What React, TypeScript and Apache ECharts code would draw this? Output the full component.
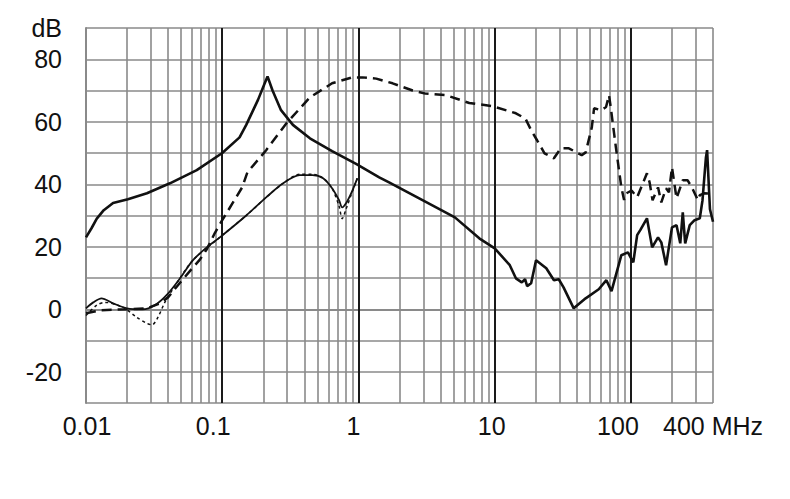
import React, { useEffect, useRef } from "react";
import * as echarts from "echarts";

// Thick solid trace
const solidFreq = [0.01, 0.011, 0.012, 0.0135, 0.0158, 0.0203, 0.028, 0.0413, 0.065, 0.1, 0.134, 0.15, 0.183, 0.205, 0.215, 0.234, 0.27, 0.33, 0.44, 0.64, 0.96, 1.42, 1.69, 2.95, 5.1, 7.7, 10, 12.9, 14.3, 15.8, 16.7, 17.3, 18.5, 20.1, 23.9, 27.2, 29.5, 32, 38, 46.5, 58, 66, 72, 85, 95, 104, 111, 117, 131, 143, 158, 167, 181, 200, 216, 230, 240, 250, 270, 293, 320, 335, 355, 362, 380, 400];
const solidDb = [23, 26, 29, 31.7, 34, 35.2, 37.1, 40.3, 44.5, 50, 55, 59, 67, 72.3, 74.5, 70, 63.7, 59, 54.7, 50.6, 46.5, 42.2, 40.5, 34.9, 29.4, 22.7, 19.5, 14.1, 9.9, 8.6, 9.6, 7.4, 8.3, 15.7, 13.1, 9.3, 9.6, 7, 0.3, 3.5, 6.4, 9.3, 5.8, 17.3, 18.2, 15, 23.7, 25.3, 29.1, 19.8, 23, 21.4, 14.1, 26.2, 26.9, 21.1, 31, 21.1, 26.9, 28.5, 29.1, 34.9, 48.6, 50.9, 32, 28];

// Long-dashed trace
const dashFreq = [0.01, 0.0127, 0.02, 0.028, 0.0349, 0.04, 0.049, 0.06, 0.068, 0.077, 0.088, 0.1, 0.14, 0.153, 0.21, 0.296, 0.44, 0.64, 0.9, 1.07, 1.35, 1.78, 2.5, 3.1, 4.4, 6.5, 9.6, 14.3, 16.8, 18.5, 20.5, 23.2, 27.2, 30.5, 35, 43.5, 46.5, 51.6, 53.6, 60.4, 65.6, 69, 71, 77.5, 85, 89, 92.5, 101, 111, 131, 137, 144, 158, 167, 181, 190, 200, 216, 240, 260, 280, 310, 320, 345, 400];
const dashDb = [-1.3, -0.3, 0, 0.3, 1.9, 3.8, 8.5, 13, 15.7, 19.2, 24.3, 28.5, 39, 43.8, 50.9, 59.5, 67.8, 72.3, 74.2, 74.2, 73.8, 72.3, 70, 69, 68.5, 66, 65, 62.7, 61, 57.3, 54, 49.9, 48.3, 51.5, 51.5, 49.3, 50.2, 58.2, 64.3, 63.7, 64.7, 68.5, 64.7, 51.8, 39, 35, 37.1, 38, 35.8, 43.5, 40.6, 34.9, 39, 34.2, 38.7, 37.4, 45.4, 35.5, 41.3, 41.3, 39, 34.9, 36.5, 37.1, 37];

// Thin solid trace
const thinFreq = [0.01, 0.0113, 0.013, 0.0158, 0.02, 0.026, 0.032, 0.039, 0.049, 0.061, 0.077, 0.096, 0.15, 0.21, 0.28, 0.37, 0.46, 0.55, 0.64, 0.72, 0.76, 0.81, 0.89, 0.98];
const thinDb = [0.3, 2.2, 3.5, 1.9, 0.3, 0, 1.3, 4.5, 9.9, 15.7, 19.8, 23, 30, 35.8, 40.3, 42.9, 42.9, 41.9, 38.7, 34.9, 32.6, 33.9, 37.4, 41.9];

// Short-dashed trace
const dotFreq = [0.01, 0.012, 0.0138, 0.0187, 0.0236, 0.028, 0.0305, 0.0337, 0.0379, 0.045, 0.061, 0.096, 0.15, 0.21, 0.28, 0.37, 0.46, 0.55, 0.64, 0.72, 0.76, 0.81, 0.89, 0.98];
const dotDb = [-2, 1.3, 2.2, 0.6, -2.6, -4.5, -5, -2.6, 2.2, 7.5, 15.7, 23, 30, 35.8, 40.3, 43.2, 43.2, 42, 38.7, 33, 29, 32, 37, 41.9];

// Grid lines (frequency values)
const majorGrid = [0.1, 1, 10, 100];
const minorGrid = [0.02, 0.03, 0.04, 0.05, 0.06, 0.07, 0.08, 0.09, 0.2, 0.3, 0.4, 0.5, 0.6, 0.7, 0.8, 0.9, 2, 3, 4, 5, 6, 7, 8, 9, 20, 30, 40, 50, 60, 70, 80, 90, 200, 300, 400];

// Tick labels
const xTickValues = [0.01, 0.1, 1, 10, 100, 400];
const xTickLabels = ["0.01", "0.1", "1", "10", "100", "400 MHz"];
const yTickValues = [90, 80, 60, 40, 20, 0, -20];
const yTickLabels = ["dB", "80", "60", "40", "20", "0", "-20"];

const zip = (f: number[], d: number[]) => f.map((v, i) => [v, d[i]]);

const FONT = "Liberation Sans, Arial, sans-serif";
const gridGray = "#8a8a8a";

export default function App() {
  const ref = useRef<HTMLDivElement>(null);
  useEffect(() => {
    if (!ref.current) return;
    const chart = echarts.init(ref.current, null, { renderer: "svg" });
    const lbl = (pad: number[]) => ({ fontSize: 25, fontFamily: FONT, color: "#111", padding: pad });
    chart.setOption({
      animation: false,
      backgroundColor: "#fff",
      grid: { left: 86, right: 77, top: 28, bottom: 96, containLabel: false },
      xAxis: {
        type: "log",
        logBase: 10,
        min: 0.01,
        max: 400,
        axisLine: { show: true, lineStyle: { color: gridGray, width: 2 } },
        axisTick: { show: false },
        splitLine: { show: false },
        axisLabel: {
          show: true,
          showMinLabel: true,
          showMaxLabel: true,
          margin: 10,
          fontSize: 25,
          fontFamily: FONT,
          color: "#111",
          formatter: (value: number) => {
            const i = xTickValues.findIndex((t) => Math.abs(Math.log10(t) - Math.log10(value)) < 0.01);
            if (i < 0) return "";
            return `{r${i}|${xTickLabels[i]}}`;
          },
          rich: {
            r0: lbl([0, 0, 0, 2]),
            r1: lbl([0, 18, 0, 0]),
            r2: lbl([0, 10, 0, 0]),
            r3: lbl([0, 6, 0, 0]),
            r4: lbl([0, 26, 0, 0]),
            r5: lbl([0, 0, 0, 0]),
          },
        },
      },
      yAxis: {
        type: "value",
        min: -30,
        max: 90,
        interval: 10,
        axisLine: { show: true, lineStyle: { color: gridGray, width: 2 } },
        axisTick: { show: false },
        splitLine: { show: true, lineStyle: { color: gridGray, width: 1.6 } },
        axisLabel: {
          show: true,
          showMinLabel: true,
          showMaxLabel: true,
          margin: 24,
          fontSize: 25,
          fontFamily: FONT,
          color: "#111",
          padding: [8, 0, 0, 0],
          formatter: (value: number) => {
            const i = yTickValues.indexOf(Math.round(value));
            return i < 0 ? "" : yTickLabels[i];
          },
        },
      },
      series: [
        {
          type: "line",
          name: "grid",
          data: [],
          z: 1,
          silent: true,
          markLine: {
            z: 1,
            silent: true,
            symbol: "none",
            label: { show: false },
            emphasis: { disabled: true },
            data: [
              ...minorGrid.map((v) => ({ xAxis: v, lineStyle: { color: gridGray, width: 1.6, type: "solid" } })),
              ...majorGrid.map((v) => ({ xAxis: v, lineStyle: { color: "#1a1a1a", width: 2, type: "solid" } })),
            ],
          },
        },
        {
          type: "line",
          name: "thin",
          data: zip(thinFreq, thinDb),
          showSymbol: false,
          smooth: 0.3,
          z: 5,
          lineStyle: { color: "#111", width: 1.8 },
        },
        {
          type: "line",
          name: "dotted",
          data: zip(dotFreq, dotDb),
          showSymbol: false,
          smooth: 0.3,
          z: 5,
          lineStyle: { color: "#111", width: 1.5, type: [3, 3] },
        },
        {
          type: "line",
          name: "dashed",
          data: zip(dashFreq, dashDb),
          showSymbol: false,
          z: 6,
          lineStyle: { color: "#111", width: 2.5, type: [10, 6] },
        },
        {
          type: "line",
          name: "solid",
          data: zip(solidFreq, solidDb),
          showSymbol: false,
          z: 7,
          lineStyle: { color: "#111", width: 2.6 },
        },
      ],
    });
    return () => chart.dispose();
  }, []);
  return (
    <div
      ref={ref}
      style={{ position: "fixed", left: 0, top: 0, width: 790, height: 499, background: "#fff" }}
    />
  );
}
